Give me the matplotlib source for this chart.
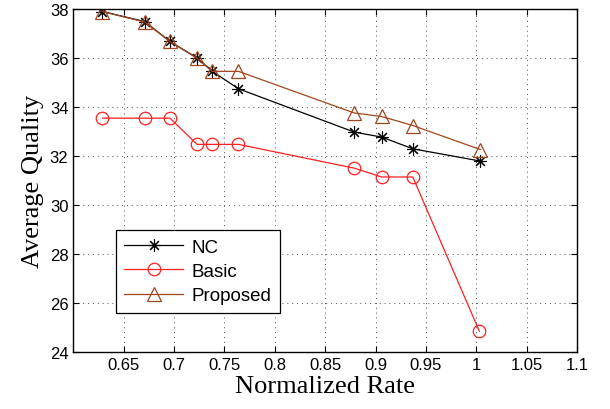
import matplotlib
matplotlib.use("Agg")
import matplotlib.pyplot as plt

# ── DATA ─────────────────────────────────────────────
nc_rate   = [0.629, 0.671, 0.696, 0.723, 0.738, 0.764, 0.879, 0.906, 0.937, 1.004]
nc_qual   = [37.89, 37.48, 36.67, 35.99, 35.45, 34.74, 32.97, 32.77, 32.29, 31.79]

basic_rate = [0.629, 0.671, 0.696, 0.723, 0.738, 0.764, 0.879, 0.906, 0.937, 1.003]
basic_qual = [33.54, 33.54, 33.54, 32.47, 32.47, 32.47, 31.50, 31.14, 31.14, 24.85]

prop_rate = [0.629, 0.671, 0.696, 0.723, 0.738, 0.764, 0.879, 0.906, 0.937, 1.004]
prop_qual = [37.89, 37.46, 36.67, 35.99, 35.45, 35.45, 33.75, 33.61, 33.24, 32.26]

x_ticks = [0.65, 0.7, 0.75, 0.8, 0.85, 0.9, 0.95, 1, 1.05, 1.1]
y_ticks = [24, 26, 28, 30, 32, 34, 36, 38]

# ── PLOT ─────────────────────────────────────────────
fig = plt.figure(figsize=(6.1, 4.1), dpi=100)
ax = fig.add_axes([0.12, 0.139, 0.826, 0.837])

brown = "#a0461e"
ax.plot(nc_rate, nc_qual, color="black", lw=0.9, marker=(8, 2, 0),
        markersize=9, markeredgewidth=0.8, label="NC")
ax.plot(basic_rate, basic_qual, color="#ff2020", lw=0.9, marker="o",
        markersize=9, markerfacecolor="none", markeredgewidth=0.9, label="Basic")
ax.plot(prop_rate, prop_qual, color=brown, lw=0.9, marker="^",
        markersize=10, markerfacecolor="none", markeredgewidth=0.9, label="Proposed")

ax.set_xlim(0.6, 1.1)
ax.set_ylim(24, 38)
ax.set_xticks(x_ticks)
ax.set_xticklabels(["0.65", "0.7", "0.75", "0.8", "0.85", "0.9", "0.95", "1", "1.05", "1.1"])
ax.set_yticks(y_ticks)

ax.grid(True, linestyle=(0, (1, 4)), color="black", linewidth=0.7, alpha=0.7)
ax.tick_params(direction="in", top=True, right=True, length=4, width=0.8,
               labelsize=12)
for lbl in ax.get_xticklabels() + ax.get_yticklabels():
    lbl.set_fontfamily("Liberation Sans")
for sp in ax.spines.values():
    sp.set_linewidth(1.0)

ax.set_xlabel("Normalized Rate", fontsize=19, family="Liberation Serif", labelpad=2)
ax.set_ylabel("Average Quality", fontsize=19, family="Liberation Serif", labelpad=4)

leg = ax.legend(loc="lower left", bbox_to_anchor=(0.085, 0.115), borderaxespad=0,
                prop={"family": "Liberation Sans", "size": 13.5},
                fancybox=False, framealpha=1, edgecolor="black",
                handlelength=3.1, borderpad=0.45, labelspacing=0.38,
                handletextpad=0.5)
leg.get_frame().set_linewidth(0.9)

fig.savefig("out.png", dpi=100)
